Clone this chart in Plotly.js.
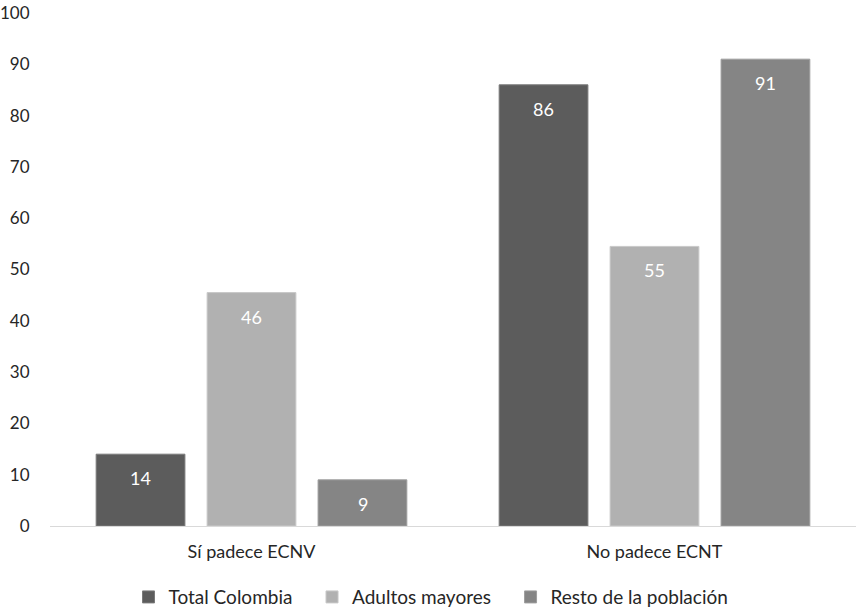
<!DOCTYPE html>
<html>
<head>
<meta charset="utf-8">
<script src="https://cdn.plot.ly/plotly-3.0.1.min.js"></script>
<style>html,body{margin:0;padding:0;background:#fff;}#chart{width:862px;height:613px;}</style>
</head>
<body>
<div id="chart"></div>
<script>
var categories = ["Sí padece ECNV", "No padece ECNT"];
var seriesNames = ["Total Colombia", "Adultos mayores", "Resto de la población"];
var totalColombia = [14, 86];
var adultosMayores = [45.5, 54.5];
var restoPoblacion = [9, 91];
var yTicks = [0, 10, 20, 30, 40, 50, 60, 70, 80, 90, 100];

var seriesValues = [totalColombia, adultosMayores, restoPoblacion];
var colors = ["#5c5c5c", "#b1b1b1", "#858585"];
var lineColors = ["#7a7a7a", "#c8c8c8", "#9e9e9e"];
var FONT = "Lato, 'Open Sans', sans-serif";
var PAD = "\u00a0\u00a0\u00a0";

var traces = seriesValues.map(function (vals, i) {
  return {
    type: "bar",
    name: seriesNames[i] + (i < seriesValues.length - 1 ? PAD : ""),
    x: categories,
    y: vals,
    marker: { color: colors[i], line: { color: lineColors[i], width: 1 } },
    hoverinfo: "none"
  };
});

var shifts = [-111, 0, 111];
var annotations = [];
seriesValues.forEach(function (vals, i) {
  vals.forEach(function (v, j) {
    annotations.push({
      x: categories[j], y: v, xref: "x", yref: "y",
      text: String(Number(v.toFixed(0))),
      showarrow: false, xshift: shifts[i], yshift: -24,
      font: { family: FONT, size: 18, color: "#ffffff" }
    });
  });
});

var layout = {
  width: 862, height: 613,
  margin: { l: 50, r: 6, t: 13, b: 87, autoexpand: false },
  paper_bgcolor: "#ffffff", plot_bgcolor: "#ffffff",
  barmode: "group", bargap: 0.174, bargroupgap: 0.2,
  font: { family: FONT, size: 18, color: "#262626" },
  showlegend: true,
  legend: {
    orientation: "h", x: 0.5, xanchor: "center", xref: "container",
    y: 0.026, yanchor: "middle", yref: "container",
    font: { family: FONT, size: 19, color: "#262626" },
    itemwidth: 30, tracegroupgap: 0
  },
  xaxis: {
    type: "category", automargin: false,
    showline: true, linecolor: "#d9d9d9", linewidth: 1,
    showgrid: false, zeroline: false,
    ticks: "outside", ticklen: 9, tickcolor: "rgba(0,0,0,0)",
    tickfont: { family: FONT, size: 18, color: "#262626" }
  },
  yaxis: {
    range: [0, 100], tickvals: yTicks, ticktext: yTicks.map(String),
    automargin: false, ticklabeloverflow: "allow",
    showgrid: false, zeroline: false, showline: false,
    ticks: "outside", ticklen: 16, tickcolor: "rgba(0,0,0,0)",
    tickfont: { family: FONT, size: 17, color: "#262626" }
  },
  annotations: annotations
};

Plotly.newPlot("chart", traces, layout, { displayModeBar: false, staticPlot: true });
</script>
</body>
</html>
